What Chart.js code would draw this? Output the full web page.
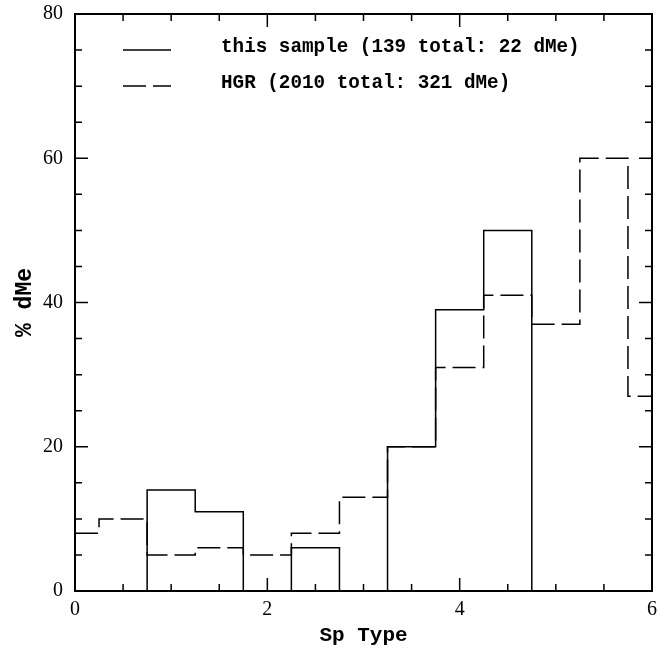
<!DOCTYPE html>
<html><head><meta charset="utf-8">
<script src="https://cdn.jsdelivr.net/npm/chart.js@4.4.1/dist/chart.umd.min.js"></script>
<style>html,body{margin:0;padding:0;background:#fff}#wrap{width:671px;height:648px}</style>
</head><body><div id="wrap"><canvas id="c" width="671" height="648"></canvas></div>
<script>
// ---- data ----
const spTypes = [0, 0.5, 1, 1.5, 2, 2.5, 3, 3.5, 4, 4.5, 5, 5.5, 6];   // bin centres
const binWidth = 0.5;
const thisSample = [0, 0, 14, 11, 0, 6, 0, 20, 39, 50, 0, 0, 0];
const hgr = [8, 10, 5, 6, 5, 8, 13, 20, 31, 41, 37, 60, 27];
const xRange = [0, 6];
const yRange = [0, 80];
const xLabelStep = 2, xMinorStep = 0.5;
const yLabelStep = 20, yMinorStep = 5;
const seriesNames = ['this sample (139 total: 22 dMe)', 'HGR (2010 total: 321 dMe)'];
const xTitle = 'Sp Type';
const yTitle = '% dMe';

function stepPoints(vals) {
  const pts = [];
  spTypes.forEach((c, i) => {
    const a = Math.max(xRange[0], c - binWidth / 2);
    const b = Math.min(xRange[1], c + binWidth / 2);
    pts.push({x: a, y: vals[i]}, {x: b, y: vals[i]});
  });
  return pts;
}

const frameAndLegend = {
  id: 'frameAndLegend',
  afterDraw(chart) {
    const ctx = chart.ctx, a = chart.chartArea;
    const xs = chart.scales.x, ys = chart.scales.y;
    ctx.save();
    ctx.strokeStyle = '#000';
    ctx.lineWidth = 2;
    ctx.strokeRect(a.left, a.top, a.right - a.left, a.bottom - a.top);
    ctx.lineWidth = 1.5;
    ctx.beginPath();
    for (let v = xRange[0]; v <= xRange[1] + 1e-9; v += xMinorStep) {
      const major = Math.abs(v / xLabelStep - Math.round(v / xLabelStep)) < 1e-6;
      const len = major ? 13 : 7;
      const px = xs.getPixelForValue(v);
      ctx.moveTo(px, a.bottom); ctx.lineTo(px, a.bottom - len);
      ctx.moveTo(px, a.top); ctx.lineTo(px, a.top + len);
    }
    for (let v = yRange[0]; v <= yRange[1] + 1e-9; v += yMinorStep) {
      const major = Math.abs(v / yLabelStep - Math.round(v / yLabelStep)) < 1e-6;
      const len = major ? 13 : 7;
      const py = ys.getPixelForValue(v);
      ctx.moveTo(a.left, py); ctx.lineTo(a.left + len, py);
      ctx.moveTo(a.right, py); ctx.lineTo(a.right - len, py);
    }
    ctx.stroke();
    // legend
    chart.data.datasets.forEach((ds, i) => {
      const y = 50 + i * 36;
      ctx.beginPath();
      ctx.setLineDash(ds.borderDash || []);
      ctx.lineWidth = ds.borderWidth;
      ctx.strokeStyle = ds.borderColor;
      ctx.moveTo(123, y); ctx.lineTo(171, y);
      ctx.stroke();
      ctx.setLineDash([]);
      ctx.fillStyle = '#000';
      ctx.font = 'bold 19.3px "Liberation Mono"';
      ctx.textBaseline = 'middle';
      ctx.textAlign = 'left';
      ctx.fillText(ds.label, 221, y - 3);
    });
    ctx.restore();
  }
};

new Chart(document.getElementById('c'), {
  type: 'line',
  data: {
    datasets: [
      {label: seriesNames[0], data: stepPoints(thisSample), borderColor: '#000', borderWidth: 1.5,
       pointRadius: 0, fill: false, tension: 0},
      {label: seriesNames[1], data: stepPoints(hgr), borderColor: '#000', borderWidth: 1.5,
       borderDash: [23, 7], pointRadius: 0, fill: false, tension: 0}
    ]
  },
  options: {
    responsive: false,
    animation: false,
    devicePixelRatio: 1,
    layout: {padding: {top: 14, right: 19, left: 0, bottom: 0}},
    plugins: {legend: {display: false}, tooltip: {enabled: false}},
    scales: {
      x: {
        type: 'linear', min: xRange[0], max: xRange[1],
        afterFit: s => { s.height = 57; s.paddingLeft = 0; s.paddingRight = 0; },
        grid: {display: false, drawTicks: false},
        border: {display: false},
        ticks: {stepSize: xLabelStep, color: '#000', padding: 7,
                font: {family: '"Liberation Serif"', size: 20},
                callback: v => String(v), maxRotation: 0, autoSkip: false},
        title: {display: true, text: xTitle, color: '#000', padding: {top: 2, bottom: 0},
                font: {family: '"Liberation Mono"', size: 21, weight: 'bold'}}
      },
      y: {
        type: 'linear', min: yRange[0], max: yRange[1],
        afterFit: s => { s.width = 75; s.paddingTop = 0; s.paddingBottom = 0; },
        grid: {display: false, drawTicks: false},
        border: {display: false},
        ticks: {stepSize: yLabelStep, color: '#000', padding: 12,
                font: {family: '"Liberation Serif"', size: 20}},
        title: {display: true, text: yTitle, color: '#000', padding: {top: 11, bottom: 0},
                font: {family: '"Liberation Mono"', size: 23, weight: 'bold'}}
      }
    }
  },
  plugins: [frameAndLegend]
});
</script>
</body></html>
